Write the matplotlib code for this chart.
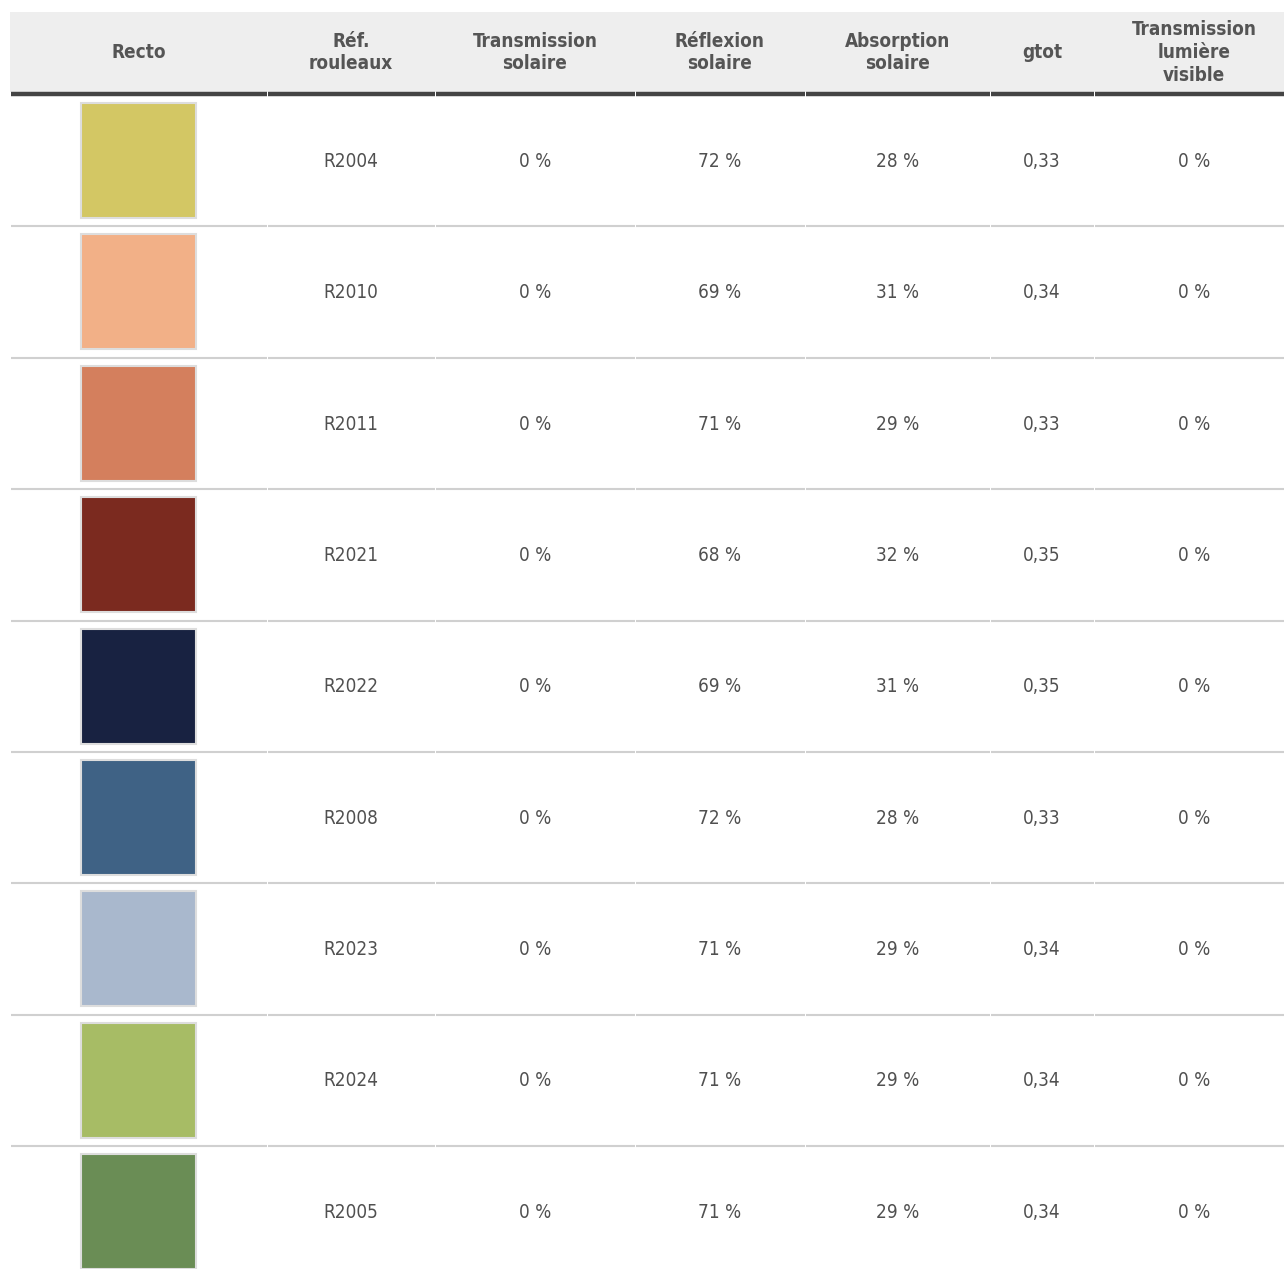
import matplotlib
matplotlib.use("Agg")
import matplotlib.pyplot as plt
from matplotlib.patches import Rectangle
from matplotlib import font_manager as fm

# ---- data ----
headers = ["Recto", "Réf.\nrouleaux", "Transmission\nsolaire", "Réflexion\nsolaire",
           "Absorption\nsolaire", "gtot", "Transmission\nlumière\nvisible"]
refs = ["R2004", "R2010", "R2011", "R2021", "R2022", "R2008", "R2023", "R2024", "R2005"]
swatch_colors = ["#d3c764", "#f2b087", "#d47f5d", "#7b2a1f", "#182241",
                 "#3f6285", "#a9b8cd", "#a7bc65", "#6a8d55"]
trans_solaire = ["0 %"] * 9
reflexion = ["72 %", "69 %", "71 %", "68 %", "69 %", "72 %", "71 %", "71 %", "71 %"]
absorption = ["28 %", "31 %", "29 %", "32 %", "31 %", "28 %", "29 %", "29 %", "29 %"]
gtot = ["0,33", "0,34", "0,33", "0,35", "0,35", "0,33", "0,34", "0,34", "0,34"]
trans_lumiere = ["0 %"] * 9

# ---- layout ----
W, H = 1284, 1269
col_edges = [10, 267, 435, 635, 805, 990, 1094, 1294]
header_top, header_bot = 12, 92
row_top0, row_h = 95, 131.4

fam = "DejaVu Sans"
stretch = "normal"
cond = [f for f in fm.fontManager.ttflist if f.name == "DejaVu Sans" and f.stretch == "condensed"]
if cond:
    stretch = "condensed"

fig = plt.figure(figsize=(W / 100, H / 100), dpi=100)
ax = fig.add_axes([0, 0, 1, 1])
ax.set_xlim(0, W)
ax.set_ylim(H, 0)
ax.axis("off")

# header background
ax.add_patch(Rectangle((col_edges[0], header_top), W - col_edges[0], header_bot - header_top,
                       facecolor="#eeeeee", edgecolor="none"))
centers = [(col_edges[i] + col_edges[i + 1]) / 2 for i in range(len(col_edges) - 1)]
centers[-1] = 1194
hsize = 13.6 if stretch == "condensed" else 12.0
bsize = 13.6 if stretch == "condensed" else 12.0
for c, h in zip(centers, headers):
    ax.text(c, (header_top + header_bot) / 2 + 0.5, h, ha="center", va="center", fontsize=hsize,
            fontweight="bold", color="#555555", family=fam, fontstretch=stretch,
            linespacing=1.24, multialignment="center")
# dark header rule, segmented per column
for i in range(len(col_edges) - 1):
    ax.plot([col_edges[i] + 0.5, col_edges[i + 1] - 0.5], [94, 94], color="#444444",
            lw=3.2, solid_capstyle="butt")

columns = [refs, trans_solaire, reflexion, absorption, gtot, trans_lumiere]
n = len(refs)
for r in range(n):
    top = row_top0 + r * row_h
    cy = top + row_h / 2 + 0.5
    # swatch
    ax.add_patch(Rectangle((81, top + 8), 115, 115, facecolor=swatch_colors[r],
                           edgecolor="#dddddd", lw=1.5))
    for ci, col in enumerate(columns):
        ax.text(centers[ci + 1], cy, col[r], ha="center", va="center", fontsize=bsize,
                color="#505050", family=fam, fontstretch=stretch)
    if r < n - 1:
        yb = top + row_h
        for i in range(len(col_edges) - 1):
            ax.plot([col_edges[i] + 0.5, col_edges[i + 1] - 0.5], [yb, yb], color="#d0d0d0",
                    lw=1.5, solid_capstyle="butt")

fig.savefig("out.png", dpi=100, facecolor="white")
